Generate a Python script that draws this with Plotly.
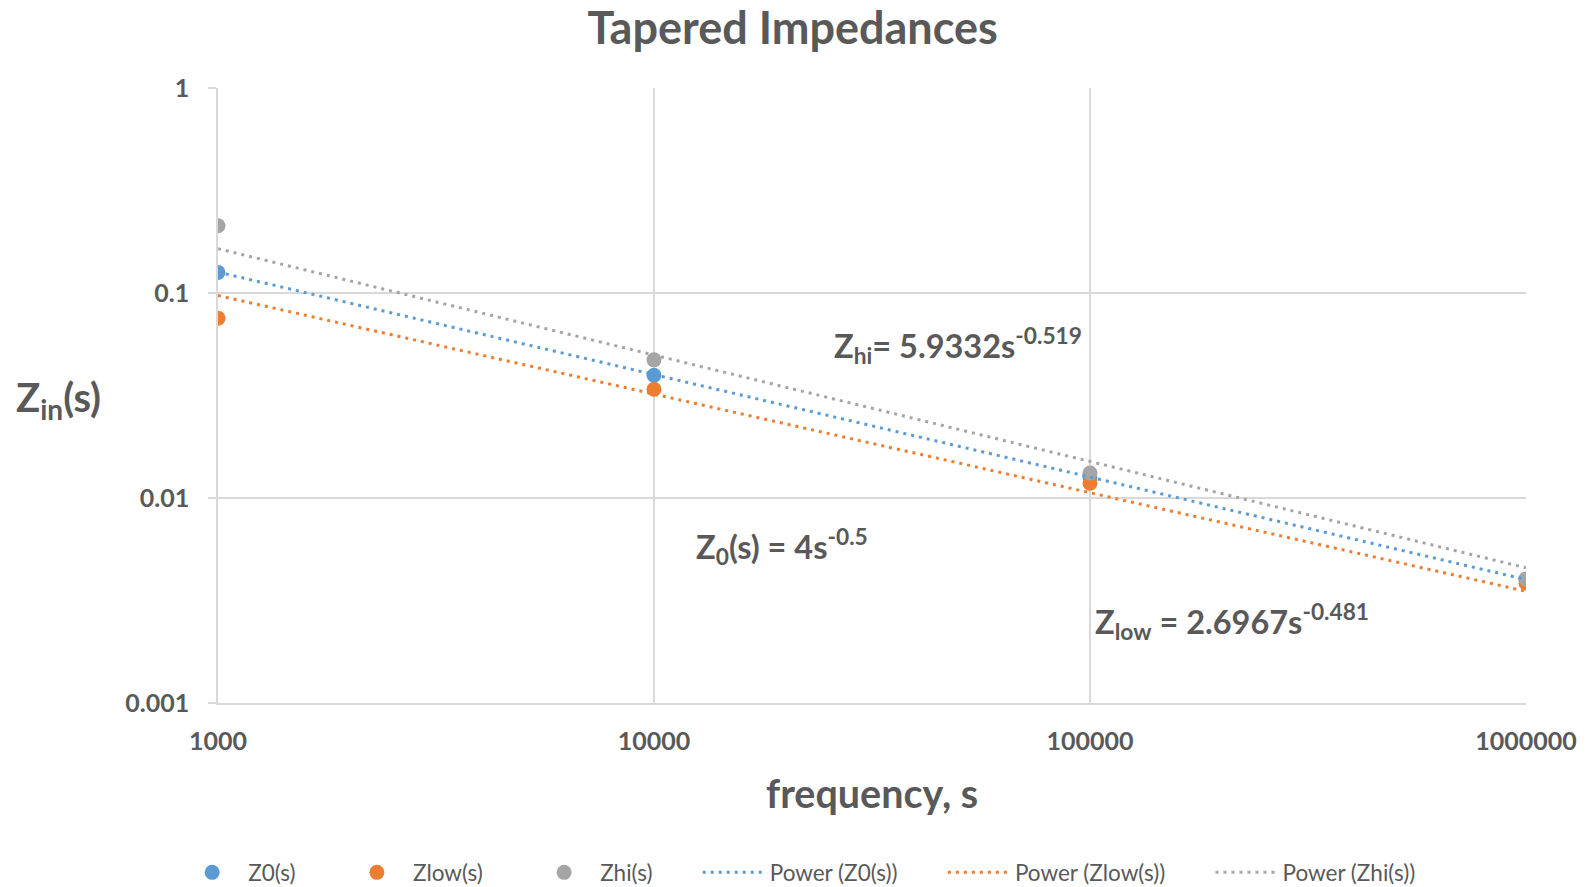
import plotly.graph_objects as go

# ---- data ----
freq = [1000, 10000, 100000, 1000000]
z0 = [0.126, 0.0397, 0.0126, 0.0040]
zlow = [0.0754, 0.0339, 0.0118, 0.00385]
zhi = [0.213, 0.0472, 0.01325, 0.00403]

# power trendline coefficients (y = a * s^b) shown on the chart
trend_z0 = (4.0, -0.5)
trend_zlow = (2.6967, -0.481)
trend_zhi = (5.9332, -0.519)

series_names = ["Z0(s)", "Zlow(s)", "Zhi(s)"]
trend_names = ["Power (Z0(s))", "Power (Zlow(s))", "Power (Zhi(s))"]

tick_x = [1000, 10000, 100000, 1000000]
tick_x_text = ["1000", "10000", "100000", "1000000"]
tick_y = [0.001, 0.01, 0.1, 1]
tick_y_text = ["0.001", "0.01", "0.1", "1"]

BLUE = "#5B9BD5"
ORANGE = "#ED7D31"
GRAY = "#A5A5A5"
TXT = "#595959"
GRID = "#D9D9D9"
FONT = "Lato"
PAD = "\u00a0" * 7  # extra spacing between legend entries

trend_x = [freq[0], freq[-1]]


def trend(coef):
    a, b = coef
    return [a * x ** b for x in trend_x]


fig = go.Figure()
for name, ys, col in zip(series_names, [z0, zlow, zhi], [BLUE, ORANGE, GRAY]):
    fig.add_trace(go.Scatter(x=freq, y=ys, mode="markers", name=name + PAD,
                             marker=dict(color=col, size=15)))
for i, (name, coef, col) in enumerate(zip(trend_names, [trend_z0, trend_zlow, trend_zhi],
                                          [BLUE, ORANGE, GRAY])):
    fig.add_trace(go.Scatter(x=trend_x, y=trend(coef), mode="lines",
                             name=name + (PAD if i < 2 else ""),
                             line=dict(color=col, width=3, dash="3px,5px")))

fig.update_layout(
    width=1595, height=887,
    margin=dict(l=218, r=69, t=88, b=184, autoexpand=False),
    paper_bgcolor="white", plot_bgcolor="white",
    font=dict(family=FONT, color=TXT),
    title=dict(text="<b>Tapered Impedances</b>", x=0.497, xanchor="center", xref="container",
               y=0.9685, yanchor="middle", font=dict(size=45, color=TXT, family=FONT)),
    showlegend=True,
    legend=dict(orientation="h", x=-0.032, xanchor="left", y=-0.276, yanchor="middle",
                font=dict(size=22.5, color=TXT, family=FONT), itemwidth=62,
                traceorder="normal"),
    xaxis=dict(type="log", range=[3, 6], tickvals=tick_x, ticktext=tick_x_text,
               showgrid=True, gridcolor=GRID, gridwidth=1.5,
               showline=True, linecolor=GRID, linewidth=1.5,
               ticks="", ticklabelstandoff=15, zeroline=False,
               tickfont=dict(size=25, color=TXT, family=FONT, weight="bold")),
    yaxis=dict(type="log", range=[-3, 0], tickvals=tick_y, ticktext=tick_y_text,
               showgrid=True, gridcolor=GRID, gridwidth=1.5,
               showline=True, linecolor=GRID, linewidth=1.5,
               ticks="outside", ticklen=8, tickcolor=GRID, tickwidth=1.5,
               ticklabelstandoff=14, zeroline=False,
               tickfont=dict(size=25, color=TXT, family=FONT, weight="bold")),
)

ann_font = dict(size=32.5, color=TXT, family=FONT)
fig.add_annotation(x=4.408, y=-1.256, xref="x", yref="y", xanchor="left", yanchor="middle",
                   text="<b>Z<sub>hi</sub>= 5.9332s<sup>-0.519</sup></b>", showarrow=False, font=ann_font)
fig.add_annotation(x=4.092, y=-2.237, xref="x", yref="y", xanchor="left", yanchor="middle",
                   text="<b>Z<sub>0</sub>(s) = 4s<sup>-0.5</sup></b>", showarrow=False, font=ann_font)
fig.add_annotation(x=5.007, y=-2.602, xref="x", yref="y", xanchor="left", yanchor="middle",
                   text="<b>Z<sub>low</sub> = 2.6967s<sup>-0.481</sup></b>", showarrow=False, font=ann_font)

fig.add_annotation(x=0.5, y=-0.146, xref="paper", yref="paper", xanchor="center", yanchor="middle",
                   text="<b>frequency, s</b>", showarrow=False, font=dict(size=39.5, color=TXT, family=FONT))
fig.add_annotation(x=-0.1216, y=0.494, xref="paper", yref="paper", xanchor="center", yanchor="middle",
                   text="<b>Z<sub>in</sub>(s)</b>", showarrow=False, font=dict(size=40, color=TXT, family=FONT))

fig.write_html("out.html")
